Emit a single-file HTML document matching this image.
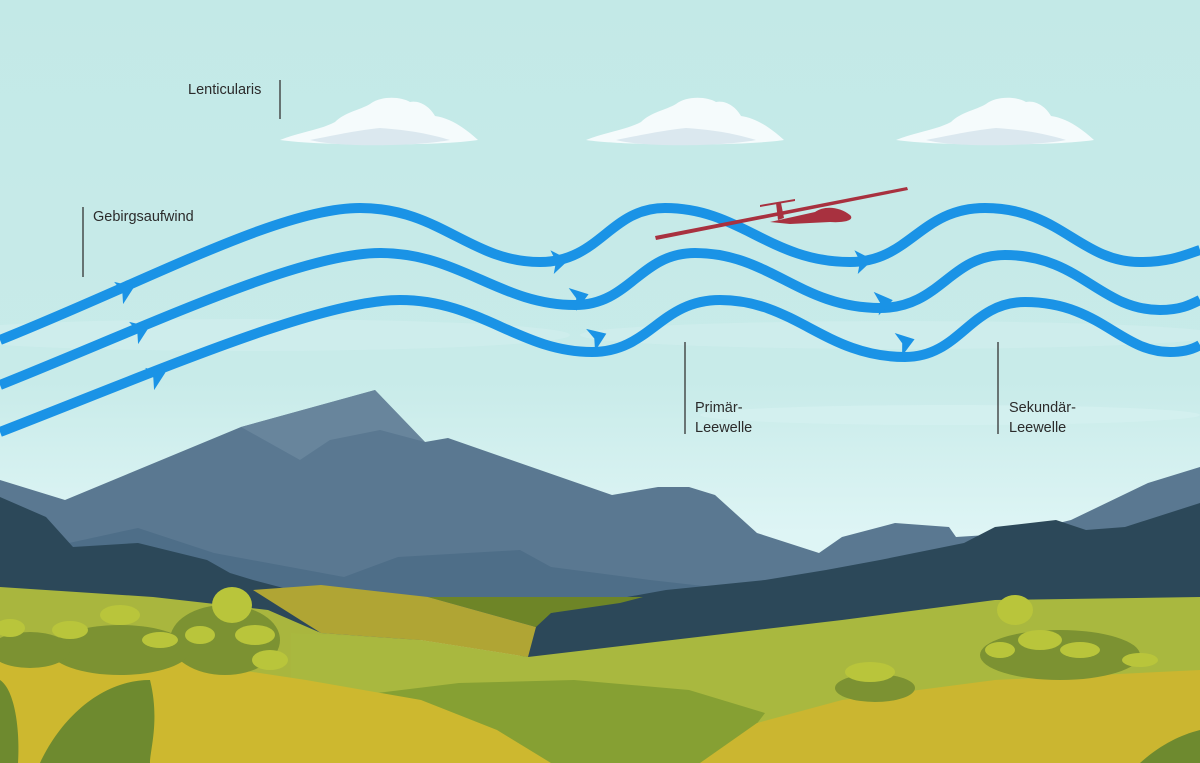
<!DOCTYPE html>
<html><head><meta charset="utf-8"><style>
html,body{margin:0;padding:0;width:1200px;height:763px;overflow:hidden}
svg{display:block}
text{font-family:"Liberation Sans",sans-serif;font-size:14.5px;fill:#2b2b2b}
</style></head><body>
<svg width="1200" height="763" viewBox="0 0 1200 763" xmlns="http://www.w3.org/2000/svg">
<defs>
<linearGradient id="sky" x1="0" y1="0" x2="0" y2="1">
<stop offset="0" stop-color="#c3e9e7"/><stop offset="0.5" stop-color="#c8ebe9"/><stop offset="0.7" stop-color="#def5f5"/></linearGradient>
<g id="cloud">
<path d="M-100,18 C-80,10 -60,8 -45,0 C-35,-10 -20,-12 -10,-18 C0,-26 20,-26 30,-20 C40,-22 50,-15 55,-6 C70,-4 85,6 98,18 C60,24 -60,24 -100,18 Z" fill="#f5fbfc"/>
<path d="M-70,18 C-40,12 -20,8 0,6 C30,8 50,12 70,18 C40,24 -40,26 -70,18 Z" fill="#dbe8ef"/>
</g>
<path id="ah" d="M9,0 L-8,-12 L-4,0 L-8,12 Z"/>
</defs>
<rect width="1200" height="763" fill="url(#sky)"/>
<ellipse cx="250" cy="335" rx="320" ry="16" fill="#d2efee" opacity="0.6"/>
<ellipse cx="900" cy="335" rx="320" ry="14" fill="#d2efee" opacity="0.6"/>
<ellipse cx="950" cy="415" rx="250" ry="10" fill="#d6f1f1" opacity="0.7"/>
<use href="#cloud" transform="translate(380,122)"/>
<use href="#cloud" transform="translate(686,122)"/>
<use href="#cloud" transform="translate(996,122)"/>
<path d="M0,480 L65,500 L241,427 L375,390 L425,442 L448,438 L612,495 L658,487 L689,487 L715,495 L757,533 L819,553 L842,537 L895,523 L949,527 L956,537 L1018,533 L1071,520 L1148,483 L1200,467 L1200,640 L0,640 Z" fill="#5a7891"/>
<path d="M241,427 L375,390 L425,442 L380,430 L330,440 L300,460 Z" fill="#6d8aa1" opacity="0.7"/>
<path d="M0,560 L69,543 L138,528 L214,553 L344,577 L398,557 L520,550 L551,567 L650,580 L765,593 L900,600 L900,640 L0,640 Z" fill="#4e6e88"/>
<path d="M0,497 L23,507 L46,517 L73,547 L138,543 L207,560 L230,573 L253,580 L291,590 L321,600 L360,607 L398,620 L402,630 L300,632 L150,610 L0,590 Z" fill="#2c4859"/>
<path d="M505,690 L536,620 L551,613 L627,597 L666,590 L765,580 L826,570 L880,560 L964,543 L995,527 L1056,520 L1086,530 L1125,527 L1200,503 L1200,610 L995,610 L842,625 Z" fill="#2c4859"/>
<path d="M0,587 L153,597 L268,610 L321,633 L420,640 L528,657 L528,763 L0,763 Z" fill="#a9b63e"/>
<path d="M253,590 L321,585 L428,597 L536,627 L528,657 L420,640 L321,633 Z" fill="#b0a534"/>
<path d="M428,597 L643,597 L620,603 L551,613 L536,627 Z" fill="#6e8527"/>
<path d="M291,633 L420,640 L528,657 L842,620 L995,600 L1200,597 L1200,763 L291,763 Z" fill="#a9b83f"/>
<path d="M344,697 L459,683 L574,680 L689,690 L765,713 L727,763 L480,763 Z" fill="#86a033"/>
<path d="M0,647 L153,657 L306,680 L421,700 L497,730 L551,763 L0,763 Z" fill="#cdb82f"/>
<path d="M700,763 L757,723 L842,700 L995,680 L1200,670 L1200,763 Z" fill="#cbb630"/>
<g fill="#7c9232">
<ellipse cx="225" cy="640" rx="55" ry="35"/><ellipse cx="120" cy="650" rx="70" ry="25"/><ellipse cx="30" cy="650" rx="40" ry="18"/>
<ellipse cx="1060" cy="655" rx="80" ry="25"/><ellipse cx="875" cy="688" rx="40" ry="14"/>
</g>
<g fill="#b9c53b">
<ellipse cx="232" cy="605" rx="20" ry="18"/><ellipse cx="255" cy="635" rx="20" ry="10"/><ellipse cx="270" cy="660" rx="18" ry="10"/><ellipse cx="200" cy="635" rx="15" ry="9"/>
<ellipse cx="120" cy="615" rx="20" ry="10"/><ellipse cx="70" cy="630" rx="18" ry="9"/><ellipse cx="10" cy="628" rx="15" ry="9"/><ellipse cx="160" cy="640" rx="18" ry="8"/>
<ellipse cx="1015" cy="610" rx="18" ry="15"/><ellipse cx="1040" cy="640" rx="22" ry="10"/><ellipse cx="1080" cy="650" rx="20" ry="8"/><ellipse cx="1140" cy="660" rx="18" ry="7"/><ellipse cx="1000" cy="650" rx="15" ry="8"/>
<ellipse cx="870" cy="672" rx="25" ry="10"/>
</g>
<g fill="#6e8a2f">
<path d="M40,763 C60,720 100,680 150,680 C160,720 150,750 150,763 Z"/>
<path d="M0,680 C15,690 20,730 18,763 L0,763 Z"/>
<path d="M1140,763 C1160,745 1180,735 1200,730 L1200,763 Z"/>
</g>
<g fill="none" stroke="#1a93e6" stroke-width="10">
<path d="M0,340 C150,280 280,208 360,208 C440,208 470,262 540,262 C600,262 610,208 665,208 C740,208 770,262 850,262 C910,262 920,208 985,208 C1060,208 1080,262 1140,262 C1170,262 1185,255 1200,250"/>
<path d="M0,385 C150,325 300,253 380,253 C460,253 500,305 575,305 C630,305 640,253 695,253 C770,253 800,308 880,308 C940,308 950,255 1005,255 C1080,255 1100,310 1160,310 C1180,310 1190,305 1200,300"/>
<path d="M0,432 C160,370 320,300 400,300 C480,300 520,352 592,352 C650,352 660,300 720,300 C795,300 825,357 905,357 C960,357 970,302 1025,302 C1100,302 1120,352 1170,352 C1185,352 1195,348 1200,345"/>
</g>
<g fill="#1a93e6">
<use href="#ah" transform="translate(126,290) rotate(-22)"/>
<use href="#ah" transform="translate(141,330) rotate(-22)"/>
<use href="#ah" transform="translate(157,376) rotate(-22)"/>
<use href="#ah" transform="translate(560,261) rotate(-8)"/>
<use href="#ah" transform="translate(580,297) rotate(-18)"/>
<use href="#ah" transform="translate(598,337) rotate(-22)"/>
<use href="#ah" transform="translate(864,261) rotate(-8)"/>
<use href="#ah" transform="translate(884,302) rotate(-12)"/>
<use href="#ah" transform="translate(906,342) rotate(-18)"/>
</g>
<g fill="#a8313f">
<path d="M655,236 L907,187 L908,190 L656,240 Z"/>
<path d="M760,205 L795,199 L795,201 L760,207 Z"/>
<path d="M776,203 L781,203 L784,218 L778,220 Z"/>
<path d="M770,222 L815,212 C825,205 840,207 850,215 C855,220 845,223 830,222 L790,224 Z"/>
</g>
<g stroke="#333" stroke-width="1.3">
<line x1="280" y1="80" x2="280" y2="119"/>
<line x1="83" y1="207" x2="83" y2="277"/>
<line x1="685" y1="342" x2="685" y2="434"/>
<line x1="998" y1="342" x2="998" y2="434"/>
</g>
<text x="188" y="94">Lenticularis</text>
<text x="93" y="221">Gebirgsaufwind</text>
<text x="695" y="412">Primär-</text>
<text x="695" y="432">Leewelle</text>
<text x="1009" y="412">Sekundär-</text>
<text x="1009" y="432">Leewelle</text>
</svg>
</body></html>
